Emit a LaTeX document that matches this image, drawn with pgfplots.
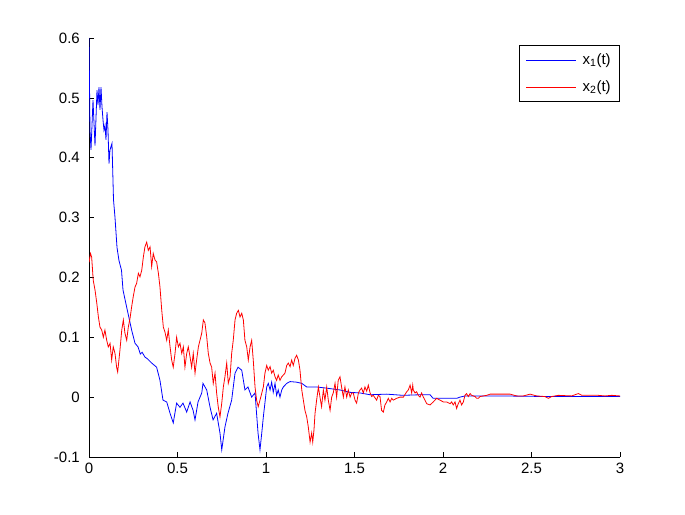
\documentclass[border=0pt]{standalone}
\usepackage{pgfplots}
\pgfplotsset{compat=1.18}
\usepackage{fontspec}
\setmainfont{Liberation Sans}
\begin{document}
\fontsize{15bp}{18bp}\selectfont
\begin{tikzpicture}[x=1bp,y=1bp]
\path[use as bounding box] (0,0) rectangle (685,515);
\begin{axis}[
  at={(89bp,58bp)}, anchor=south west,
  scale only axis, width=531bp, height=419bp,
  xmin=0, xmax=3, ymin=-0.1, ymax=0.6,
  axis x line*=bottom, axis y line*=left,
  axis line style={black, line width=0.6bp},
  tick align=inside, major tick length=5bp,
  tick style={black, line width=0.6bp},
  xtick={0,0.5,1,1.5,2,2.5,3},
  ytick={-0.1,0,0.1,0.2,0.3,0.4,0.5,0.6},
  /pgf/number format/assume math mode=true,
  ticklabel style={font=\fontsize{15bp}{18bp}\selectfont},
  xticklabel style={yshift=-1bp},
  yticklabel style={xshift=-4bp},
  legend style={at={(1,0.983)}, anchor=north east, draw=black, line width=0.6bp,
    font=\fontsize{15bp}{18bp}\selectfont, inner xsep=7bp, inner ysep=6bp,
    row sep=10bp, cells={anchor=west},
    /tikz/every odd column/.append style={column sep=4bp}},
  legend image code/.code={\draw[#1, line width=0.8bp] (0bp,0bp) -- (50bp,0bp);},
]
\addplot[blue, line width=0.8bp] coordinates {
(0.000,0.600)(0.0056,0.446)(0.0113,0.413)(0.0226,0.496)(0.0339,0.420)(0.0452,0.513)(0.0508,0.488)(0.0565,0.518)(0.0621,0.480)(0.0678,0.518)(0.0734,0.485)(0.0791,0.463)(0.0847,0.446)(0.0904,0.454)(0.0960,0.430)(0.1017,0.476)(0.1073,0.446)(0.1130,0.390)(0.1186,0.413)(0.1299,0.424)(0.1384,0.330)(0.1469,0.300)(0.1582,0.250)(0.1695,0.228)(0.1836,0.212)(0.1921,0.179)(0.213,0.150)(0.241,0.112)(0.260,0.090)(0.277,0.084)(0.290,0.072)(0.300,0.075)(0.316,0.067)(0.330,0.064)(0.354,0.057)(0.382,0.050)(0.401,0.028)(0.418,-0.005)(0.439,-0.008)(0.458,-0.027)(0.476,-0.043)(0.495,-0.010)(0.514,-0.017)(0.531,-0.010)(0.552,-0.025)(0.571,-0.008)(0.588,-0.022)(0.599,-0.038)(0.616,-0.008)(0.637,0.007)(0.644,0.023)(0.665,0.012)(0.684,-0.017)(0.701,-0.038)(0.721,-0.027)(0.740,-0.060)(0.750,-0.088)(0.768,-0.050)(0.785,-0.027)(0.806,-0.005)(0.825,0.040)(0.842,0.050)(0.863,0.045)(0.881,0.012)(0.898,0.017)(0.919,0.000)(0.938,0.007)(0.955,-0.060)(0.966,-0.088)(0.976,-0.060)(0.985,-0.033)(1.004,0.017)(1.013,0.023)(1.023,0.012)(1.032,0.025)(1.041,0.008)(1.051,0.023)(1.060,0.003)(1.069,0.012)(1.079,0.000)(1.089,0.012)(1.098,0.017)(1.117,0.023)(1.136,0.026)(1.173,0.025)(1.202,0.023)(1.230,0.017)(1.286,0.017)(1.343,0.015)(1.418,0.012)(1.475,0.008)(1.531,0.007)(1.588,0.004)(1.682,0.005)(1.774,0.003)(1.870,0.004)(1.927,0.004)(1.944,-0.002)(2.011,-0.002)(2.077,-0.002)(2.096,0.000)(2.124,0.002)(2.322,0.002)(2.605,0.001)(3.000,0.001)
};
\addlegendentry{x\textsubscript{1}(t)}
\addplot[red, line width=0.8bp] coordinates {
(0.000,0.225)(0.0085,0.240)(0.015,0.234)(0.024,0.195)(0.034,0.179)(0.044,0.157)(0.053,0.134)(0.062,0.117)(0.072,0.112)(0.081,0.100)(0.090,0.112)(0.100,0.095)(0.109,0.084)(0.119,0.090)(0.128,0.062)(0.137,0.084)(0.147,0.073)(0.156,0.050)(0.162,0.042)(0.175,0.079)(0.185,0.112)(0.194,0.129)(0.203,0.107)(0.213,0.095)(0.222,0.117)(0.232,0.132)(0.241,0.151)(0.250,0.168)(0.260,0.184)(0.269,0.190)(0.279,0.207)(0.288,0.201)(0.298,0.212)(0.307,0.234)(0.316,0.251)(0.326,0.259)(0.335,0.245)(0.345,0.251)(0.354,0.218)(0.363,0.240)(0.373,0.229)(0.382,0.226)(0.392,0.207)(0.401,0.184)(0.411,0.145)(0.420,0.117)(0.429,0.109)(0.439,0.095)(0.448,0.112)(0.458,0.084)(0.467,0.062)(0.476,0.050)(0.486,0.073)(0.495,0.100)(0.505,0.084)(0.514,0.090)(0.524,0.073)(0.533,0.084)(0.542,0.050)(0.552,0.073)(0.561,0.084)(0.571,0.067)(0.580,0.050)(0.589,0.073)(0.599,0.040)(0.608,0.062)(0.618,0.084)(0.627,0.095)(0.637,0.107)(0.646,0.129)(0.655,0.124)(0.665,0.101)(0.674,0.073)(0.684,0.057)(0.693,0.050)(0.702,0.023)(0.712,0.040)(0.721,0.007)(0.730,-0.016)(0.740,-0.033)(0.750,-0.010)(0.759,0.017)(0.768,0.034)(0.778,0.057)(0.787,0.023)(0.797,0.034)(0.806,0.073)(0.815,0.095)(0.825,0.129)(0.834,0.140)(0.844,0.145)(0.853,0.134)(0.863,0.140)(0.872,0.129)(0.881,0.095)(0.891,0.084)(0.900,0.062)(0.910,0.084)(0.919,0.095)(0.928,0.062)(0.938,0.017)(0.947,-0.005)(0.956,-0.016)(0.966,-0.005)(0.985,0.017)(0.994,0.040)(1.004,0.053)(1.013,0.045)(1.023,0.051)(1.032,0.040)(1.041,0.045)(1.051,0.034)(1.060,0.028)(1.069,0.037)(1.079,0.028)(1.089,0.034)(1.098,0.037)(1.107,0.040)(1.117,0.053)(1.126,0.057)(1.136,0.051)(1.145,0.062)(1.154,0.053)(1.164,0.065)(1.173,0.070)(1.183,0.062)(1.192,0.045)(1.202,0.012)(1.211,-0.005)(1.220,-0.022)(1.230,-0.033)(1.239,-0.050)(1.249,-0.075)(1.258,-0.060)(1.264,-0.075)(1.271,-0.055)(1.277,-0.027)(1.286,-0.005)(1.296,0.017)(1.305,0.000)(1.314,-0.016)(1.324,0.012)(1.333,-0.005)(1.343,0.017)(1.352,-0.005)(1.362,-0.022)(1.371,0.000)(1.380,0.007)(1.390,0.023)(1.399,0.000)(1.408,0.028)(1.418,0.034)(1.427,0.017)(1.437,0.000)(1.446,0.017)(1.456,0.000)(1.465,0.012)(1.475,0.000)(1.484,0.007)(1.493,0.007)(1.503,-0.005)(1.512,-0.010)(1.522,0.007)(1.531,0.012)(1.540,0.015)(1.550,0.007)(1.559,0.017)(1.569,0.010)(1.578,0.020)(1.588,0.007)(1.597,0.001)(1.606,0.003)(1.625,-0.005)(1.634,0.003)(1.644,0.001)(1.653,-0.022)(1.663,-0.025)(1.672,-0.013)(1.682,-0.008)(1.691,-0.002)(1.701,-0.008)(1.710,-0.002)(1.719,-0.005)(1.738,-0.002)(1.757,0.000)(1.776,0.000)(1.795,0.009)(1.804,0.012)(1.814,0.020)(1.823,0.007)(1.829,0.020)(1.832,0.012)(1.842,0.007)(1.851,0.009)(1.860,0.003)(1.870,0.000)(1.879,0.007)(1.889,0.000)(1.898,-0.005)(1.908,-0.011)(1.927,-0.013)(1.945,-0.008)(1.964,-0.002)(1.983,-0.005)(2.002,-0.008)(2.021,-0.008)(2.040,-0.011)(2.049,-0.008)(2.058,-0.013)(2.068,-0.008)(2.077,-0.019)(2.086,-0.011)(2.096,-0.005)(2.105,-0.013)(2.115,-0.008)(2.124,0.003)(2.133,0.006)(2.143,0.001)(2.153,0.006)(2.162,0.003)(2.181,0.001)(2.190,-0.002)(2.200,-0.002)(2.209,0.001)(2.247,0.003)(2.266,0.005)(2.379,0.005)(2.416,0.002)(2.454,0.002)(2.492,0.005)(2.529,0.002)(2.576,0.001)(2.595,-0.002)(2.614,0.001)(2.651,0.003)(2.727,0.002)(2.765,0.006)(2.784,0.003)(2.877,0.003)(2.915,0.002)(2.953,0.003)(3.000,0.002)
};
\addlegendentry{x\textsubscript{2}(t)}
\end{axis}
\end{tikzpicture}
\end{document}
